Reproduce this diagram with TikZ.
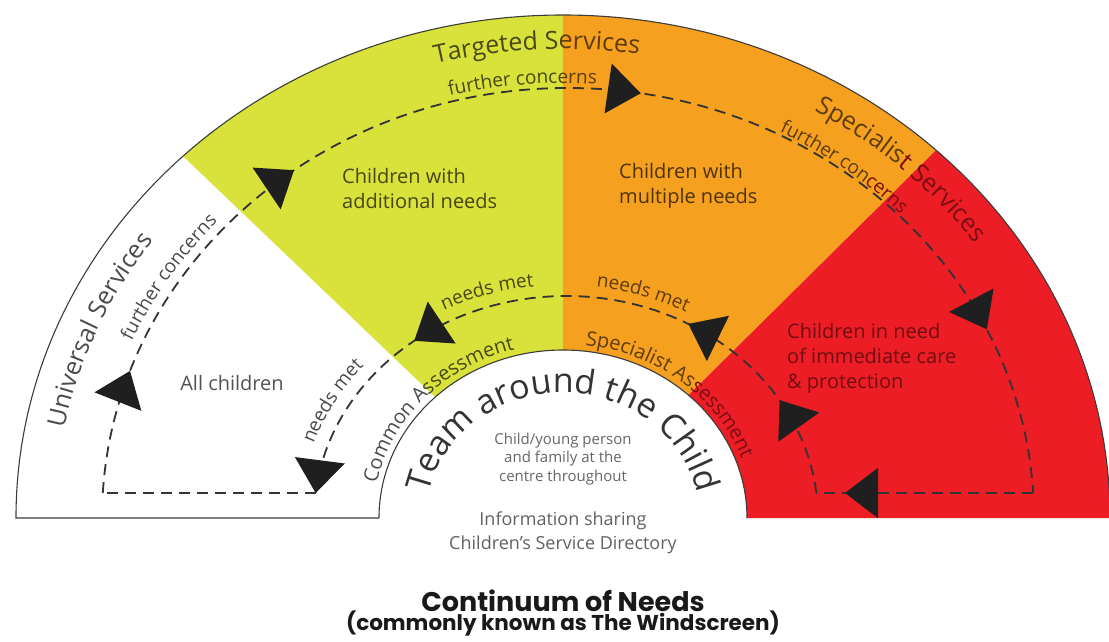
\documentclass[tikz,border=0pt]{standalone}
\usepackage{fontspec}
\setmainfont{Open Sans}
\newfontfamily\titlefont{Poppins}
\usetikzlibrary{arrows.meta,decorations.text,decorations.markings,positioning}

\definecolor{targc}{HTML}{D9E13B}
\definecolor{specc}{HTML}{F5A01F}
\definecolor{critc}{HTML}{EC1D25}
\definecolor{rimc}{HTML}{3C3C3C}
\definecolor{loopc}{HTML}{333333}
% text on each band
\definecolor{onwhite}{HTML}{4A4A4A}
\definecolor{onyellow}{HTML}{474A16}
\definecolor{onorange}{HTML}{5E3C0C}
\definecolor{onred}{HTML}{7A0E13}

\newcommand\svcfont{\fontsize{25}{25}\selectfont}
\newcommand\smallarc{\fontsize{19}{19}\selectfont}
\newcommand\assfont{\fontsize{20}{20}\selectfont}
\newcommand\teamfont{\fontsize{34}{34}\selectfont}

\tikzset{
  arclabel/.style={decorate,
    decoration={text along path,text align=center,text={#1}}},
  tipmark/.style={postaction={decorate},decoration={markings,#1}}
}

\begin{document}
\begin{tikzpicture}[x=1pt,y=1pt,
    rim/.style={draw=rimc,line width=1.1pt},
    loopline/.style={draw=loopc,line width=1.8pt,dash pattern=on 11pt off 7pt},
    ink/.style={text=black,text opacity=0.68,inner sep=0pt},
    region/.style={ink,font=\fontsize{20}{25}\selectfont},
    tri/.style={solid,black!88}]
\useasboundingbox (-563,-123) rectangle (546,518);

% the four bands
\fill[targc] (134:547 and 503) arc[start angle=134,end angle=90,x radius=547,y radius=503]
  -- (90:184 and 168) arc[start angle=90,end angle=134,x radius=184,y radius=168] -- cycle;
\fill[specc] (90:547 and 503) arc[start angle=90,end angle=47,x radius=547,y radius=503]
  -- (47:184 and 168) arc[start angle=47,end angle=90,x radius=184,y radius=168] -- cycle;
\fill[critc] (47:547 and 503) arc[start angle=47,end angle=0,x radius=547,y radius=503]
  -- (0:184 and 168) arc[start angle=0,end angle=47,x radius=184,y radius=168] -- cycle;
\draw[rim] (-184,0) -- (-547,0) arc[start angle=180,end angle=0,x radius=547,y radius=503];
\draw[rim] (-184,0) arc[start angle=180,end angle=0,x radius=184,y radius=168];

% corners of the two loops
\coordinate (ol) at (-460.2,25);
\coordinate (or) at (470.2,25);
\coordinate (il) at (-247.4,25);
\coordinate (ir) at (253.4,25);

% further concerns loop
\draw[loopline,tipmark={
    mark=at position 0.0925 with {\arrow[tri]{Triangle[length=33pt,width=50pt]}},
    mark=at position 0.2863 with {\arrow[tri]{Triangle[length=33pt,width=50pt]}},
    mark=at position 0.5538 with {\arrow[tri]{Triangle[length=33pt,width=50pt]}},
    mark=at position 0.8738 with {\arrow[tri]{Triangle[length=33pt,width=50pt]}}}]
  (ol) arc[start angle=176.67,end angle=3.33,x radius=466,y radius=430];
\draw[loopline,tipmark={
    mark=at position 0.868 with {\arrow[tri]{Triangle[length=33pt,width=50pt]}}}]
  (or) -- (ir);
% needs met loop
\draw[loopline,tipmark={
    mark=at position 0.145 with {\arrow[tri]{Triangle[length=33pt,width=50pt]}},
    mark=at position 0.318 with {\arrow[tri]{Triangle[length=33pt,width=50pt]}},
    mark=at position 0.731 with {\arrow[tri]{Triangle[length=33pt,width=50pt]}},
    mark=at position 1 with {\arrow[tri]{Triangle[length=33pt,width=50pt]}}}]
  (ir) arc[start angle=6.47,end angle=173.53,x radius=252,y radius=222];
\draw[loopline] (il) -- (ol);

% service names
\path[arclabel={|\svcfont\color{onwhite}|Universal Services}] (186.7:508 and 469)
  arc[start angle=186.7,end angle=126.7,x radius=508,y radius=469];
\path[arclabel={|\svcfont\color{onyellow}|Targeted S|\svcfont\color{onorange}|ervices}] (123:508 and 469)
  arc[start angle=123,end angle=63,x radius=508,y radius=469];
\path[arclabel={|\svcfont\color{onorange}|Specialis|\svcfont\color{onred}|t Services}] (77.6:508 and 469)
  arc[start angle=77.6,end angle=17.6,x radius=508,y radius=469];

% further concerns
\path[arclabel={|\smallarc\color{onwhite}|further concerns}] (177:472 and 435)
  arc[start angle=177,end angle=117,x radius=472,y radius=435];
\path[arclabel={|\smallarc\color{onyellow}|further conc|\smallarc\color{onorange}|erns}] (125:472 and 435)
  arc[start angle=125,end angle=65,x radius=472,y radius=435];
\path[arclabel={|\smallarc\color{onorange}|further con|\smallarc\color{onred}|cerns}] (83:472 and 435)
  arc[start angle=83,end angle=23,x radius=472,y radius=435];

% needs met
\path[arclabel={|\smallarc\color{onwhite}|needs met}] (181:263 and 233)
  arc[start angle=181,end angle=121,x radius=263,y radius=233];
\path[arclabel={|\smallarc\color{onyellow}|needs met}] (137:263 and 233)
  arc[start angle=137,end angle=77,x radius=263,y radius=233];
\path[arclabel={|\smallarc\color{onorange}|needs met}] (102:263 and 233)
  arc[start angle=102,end angle=42,x radius=263,y radius=233];

% assessments
\path[arclabel={|\assfont\color{onwhite}|Common A|\assfont\color{onyellow}|ssessment}] (177:190 and 174)
  arc[start angle=177,end angle=97,x radius=190,y radius=174];
\path[arclabel={|\assfont\color{onorange}|Specialist As|\assfont\color{onred}|sessment}] (96:190 and 174)
  arc[start angle=96,end angle=6,x radius=190,y radius=174];

% team around the child
\path[arclabel={|\teamfont\color{loopc}|Team around the Child}] (200:137 and 125)
  arc[start angle=200,end angle=-20,x radius=137,y radius=125];

% bands
\node[region] (allch) at (-331,135) {All children};
\node[region,anchor=west,align=left] (addn) at (-221,330) {Children with\\additional needs};
\node[region,anchor=west,align=left] (multn) at (56,332) {Children with\\multiple needs};
\node[region,text opacity=0.52,anchor=west,align=left] (immn) at (224,160) {Children in need\\of immediate care\\\& protection};

% centre
\node[ink,text opacity=0.6,align=center,font=\fontsize{15}{18.5}\selectfont] (famly) at (0,59)
  {Child/young person\\and family at the\\centre throughout};
\node[ink,text opacity=0.62,align=center,font=\fontsize{18}{24}\selectfont] (infos) at (0,-15)
  {Information sharing\\Children’s Service Directory};
\node[align=center,text=black!90,font=\titlefont\bfseries] (ttl) at (0,-95)
  {{\fontsize{27}{27}\selectfont Continuum of Needs}\\[-1pt]{\fontsize{21.5}{22}\selectfont(commonly known as The Windscreen)}};
\end{tikzpicture}
\end{document}
